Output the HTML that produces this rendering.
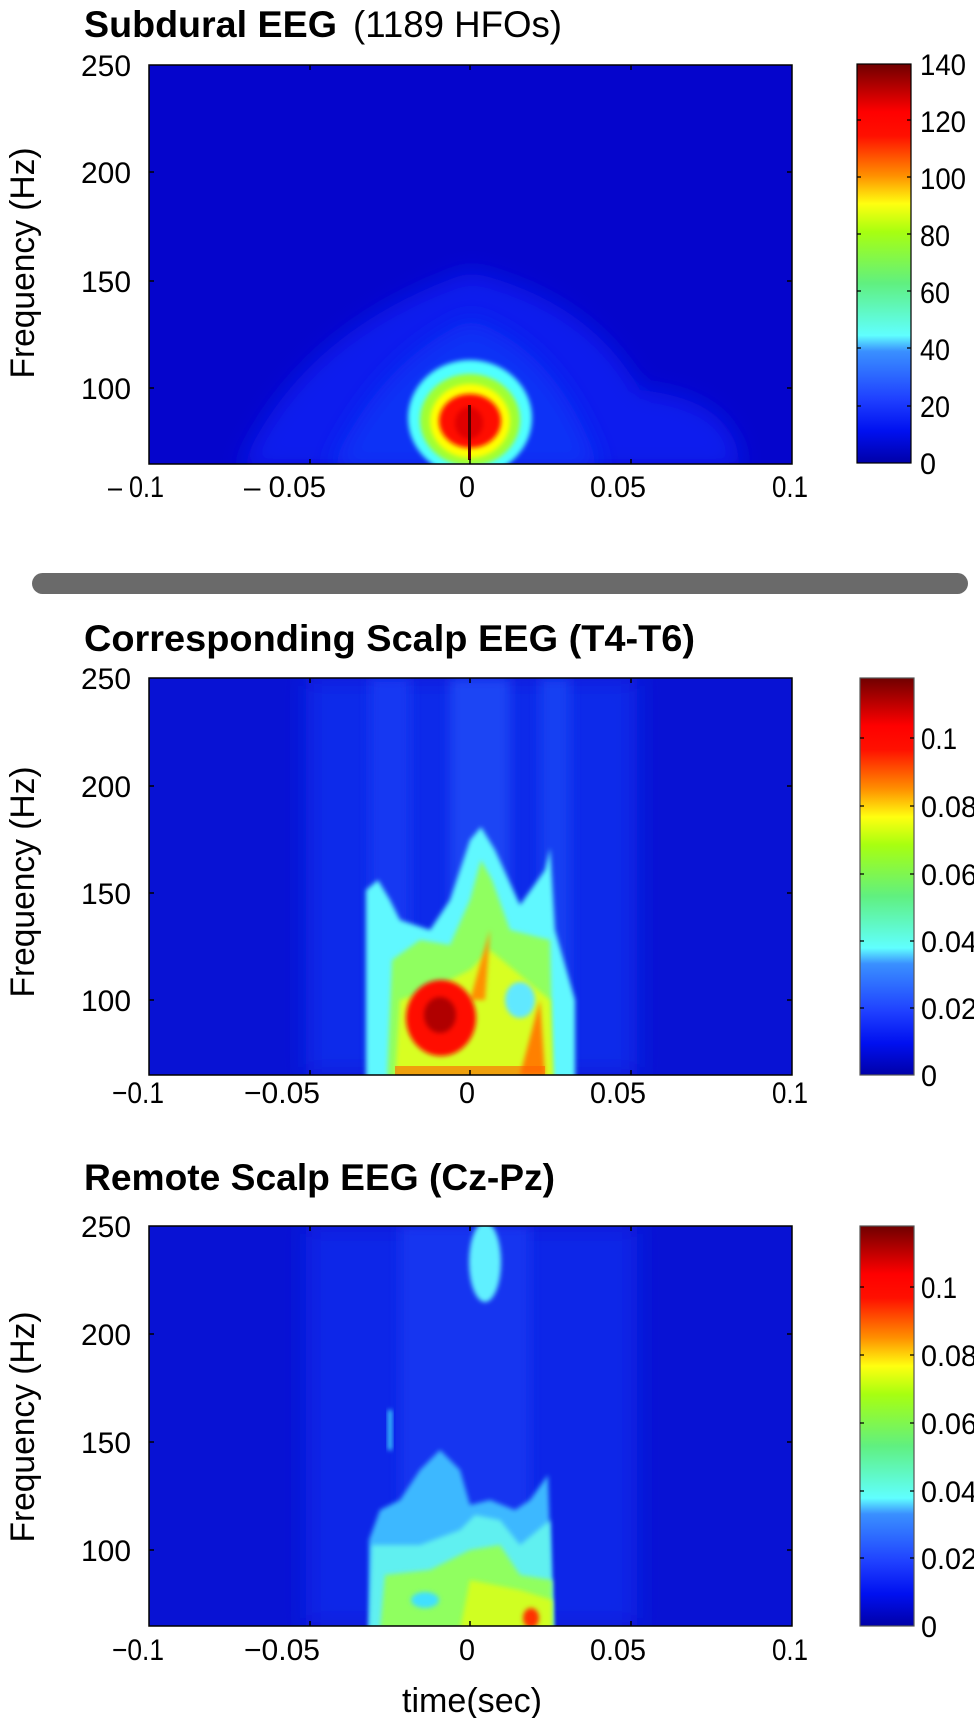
<!DOCTYPE html>
<html><head><meta charset="utf-8"><style>
html,body{margin:0;padding:0;background:#fff;}
svg{display:block;}
text{font-family:"Liberation Sans",sans-serif;fill:#000;}
</style></head><body>
<svg width="974" height="1718" viewBox="0 0 974 1718" xmlns="http://www.w3.org/2000/svg">
<defs>
<linearGradient id="jet" x1="0" y1="1" x2="0" y2="0">
<stop offset="0" stop-color="#0000a8"/><stop offset="0.08" stop-color="#0010f0"/>
<stop offset="0.16" stop-color="#1f40ff"/><stop offset="0.28" stop-color="#3a90ff"/>
<stop offset="0.32" stop-color="#60ffff"/><stop offset="0.45" stop-color="#60f080"/>
<stop offset="0.58" stop-color="#a8ff10"/><stop offset="0.65" stop-color="#ffff10"/>
<stop offset="0.72" stop-color="#ff9000"/><stop offset="0.82" stop-color="#ff1000"/>
<stop offset="0.88" stop-color="#ff0000"/><stop offset="1" stop-color="#700000"/>
</linearGradient>
<filter id="b2" x="-50%" y="-50%" width="200%" height="200%"><feGaussianBlur stdDeviation="2.5"/></filter>
<filter id="b6" x="-50%" y="-50%" width="200%" height="200%"><feGaussianBlur stdDeviation="6"/></filter>
<filter id="b12" x="-50%" y="-50%" width="200%" height="200%"><feGaussianBlur stdDeviation="12"/></filter>
<clipPath id="c1"><rect x="149" y="65" width="643" height="399"/></clipPath>
<clipPath id="c2"><rect x="149" y="678" width="643" height="397"/></clipPath>
<clipPath id="c3"><rect x="149" y="1226" width="643" height="400"/></clipPath>
</defs>

<!-- Titles -->
<text x="84" y="37" font-size="37" font-weight="bold" textLength="253" lengthAdjust="spacingAndGlyphs">Subdural EEG</text>
<text x="353" y="37" font-size="37" textLength="209" lengthAdjust="spacingAndGlyphs">(1189 HFOs)</text>
<text x="84" y="651" font-size="37" font-weight="bold" textLength="611" lengthAdjust="spacingAndGlyphs">Corresponding Scalp EEG (T4-T6)</text>
<text x="84" y="1190" font-size="37" font-weight="bold" textLength="471" lengthAdjust="spacingAndGlyphs">Remote Scalp EEG (Cz-Pz)</text>

<!-- Plot 1 -->
<g clip-path="url(#c1)">
<rect x="149" y="65" width="643" height="399" fill="#0505cc"/>
<path d="M240 470 Q300 330 470 272 Q590 300 640 390 Q740 400 740 470 Z" fill="#0a1cee" filter="url(#b12)"/>
<path d="M330 470 Q380 360 470 320 Q560 350 600 470 Z" fill="#0f30f6" filter="url(#b12)"/>
<ellipse cx="470" cy="418" rx="62" ry="58" fill="#50ffff" filter="url(#b2)"/>
<ellipse cx="470" cy="420" rx="50" ry="46" fill="#a0ff30" filter="url(#b2)"/>
<ellipse cx="470" cy="421" rx="40" ry="37" fill="#ffff00" filter="url(#b2)"/>
<ellipse cx="470" cy="421" rx="31" ry="27" fill="#ff1000" filter="url(#b2)"/>
<ellipse cx="469" cy="423" rx="14" ry="16" fill="#e00000" filter="url(#b2)"/>
<rect x="468" y="405" width="3" height="55" fill="#500000"/>
</g>
<rect x="149" y="65" width="643" height="399" fill="none" stroke="#000" stroke-width="1.5"/>

<!-- Plot 2 -->
<g clip-path="url(#c2)">
<rect x="149" y="678" width="643" height="397" fill="#0812d4"/>
<rect x="306" y="678" width="331" height="397" fill="#0e2aea" filter="url(#b12)"/>
<rect x="370" y="678" width="40" height="397" fill="#1638f2" filter="url(#b6)"/>
<rect x="450" y="678" width="60" height="397" fill="#1a44f4" filter="url(#b6)"/>
<rect x="540" y="678" width="30" height="397" fill="#1840f2" filter="url(#b6)"/>
<path d="M366 1080 L366 890 L378 880 L390 900 L400 920 L430 930 L450 900 L470 840 L481 827 L495 850 L520 905 L545 870 L550 848 L555 930 L575 1000 L575 1080 Z" fill="#60f8ff" filter="url(#b2)"/>
<path d="M387 1080 L392 960 L420 940 L450 945 L470 900 L481 860 L492 880 L510 930 L550 940 L553 1080 Z" fill="#90ff60" filter="url(#b2)"/>
<path d="M395 1080 L400 1000 L430 990 L470 970 L490 950 L550 1000 L553 1080 Z" fill="#d8ff20" filter="url(#b2)"/>
<ellipse cx="520" cy="1000" rx="15" ry="18" fill="#60e8ff" filter="url(#b2)"/>
<path d="M470 1000 L490 930 L485 1000 Z" fill="#ff9000" filter="url(#b2)"/>
<path d="M520 1075 L540 1000 L545 1075 Z" fill="#ff8000" filter="url(#b2)"/>
<ellipse cx="441" cy="1018" rx="35" ry="38" fill="#ff1000" filter="url(#b2)"/>
<ellipse cx="440" cy="1015" rx="16" ry="18" fill="#b00000" filter="url(#b2)"/>
<rect x="395" y="1066" width="150" height="9" fill="#ff6000" opacity="0.6"/>
</g>
<rect x="149" y="678" width="643" height="397" fill="none" stroke="#000" stroke-width="1.5"/>

<!-- Plot 3 -->
<g clip-path="url(#c3)">
<rect x="149" y="1226" width="643" height="400" fill="#0812d4"/>
<rect x="306" y="1226" width="331" height="400" fill="#0e28e8" filter="url(#b12)"/>
<rect x="400" y="1226" width="130" height="400" fill="#1436f0" filter="url(#b6)"/>
<ellipse cx="485" cy="1262" rx="16" ry="40" fill="#60f0ff" filter="url(#b2)"/>
<path d="M369 1630 L369 1540 L380 1510 L400 1500 L420 1470 L440 1450 L460 1470 L470 1505 L490 1500 L515 1510 L530 1500 L548 1475 L553 1630 Z" fill="#3cb8ff" filter="url(#b2)"/>
<path d="M369 1630 L372 1545 L420 1545 L460 1530 L475 1515 L500 1520 L520 1545 L550 1520 L553 1630 Z" fill="#60f0f0" filter="url(#b2)"/>
<path d="M380 1630 L385 1575 L430 1570 L470 1550 L500 1545 L520 1575 L552 1580 L552 1630 Z" fill="#90ff60" filter="url(#b2)"/>
<path d="M460 1630 L470 1580 L520 1590 L552 1600 L552 1630 Z" fill="#d0ff20" filter="url(#b2)"/>
<ellipse cx="425" cy="1600" rx="14" ry="8" fill="#40e0ff" filter="url(#b2)"/>
<ellipse cx="531" cy="1618" rx="8" ry="10" fill="#ff3000" filter="url(#b2)"/>
<rect x="388" y="1410" width="4" height="40" fill="#40e0ff" filter="url(#b2)"/>
</g>
<rect x="149" y="1226" width="643" height="400" fill="none" stroke="#000" stroke-width="1.5"/>

<!-- ticks -->
<g stroke="#000" stroke-width="1.5">
<path d="M310 464v-5M470 464v-5M631 464v-5M310 65v5M470 65v5M631 65v5M149 388h5M149 281h5M149 172h5M792 388h-5M792 281h-5M792 172h-5"/>
<path d="M310 1075v-5M470 1075v-5M631 1075v-5M310 678v5M470 678v5M631 678v5M149 1000h5M149 893h5M149 786h5M792 1000h-5M792 893h-5M792 786h-5"/>
<path d="M310 1626v-5M470 1626v-5M631 1626v-5M310 1226v5M470 1226v5M631 1226v5M149 1550h5M149 1442h5M149 1334h5M792 1550h-5M792 1442h-5M792 1334h-5"/>
</g>

<!-- y tick labels -->
<g font-size="30" text-anchor="end">
<text x="131" y="76" textLength="50" lengthAdjust="spacingAndGlyphs">250</text>
<text x="131" y="183" textLength="50" lengthAdjust="spacingAndGlyphs">200</text>
<text x="131" y="292" textLength="50" lengthAdjust="spacingAndGlyphs">150</text>
<text x="131" y="399" textLength="50" lengthAdjust="spacingAndGlyphs">100</text>
<text x="131" y="689" textLength="50" lengthAdjust="spacingAndGlyphs">250</text>
<text x="131" y="797" textLength="50" lengthAdjust="spacingAndGlyphs">200</text>
<text x="131" y="904" textLength="50" lengthAdjust="spacingAndGlyphs">150</text>
<text x="131" y="1011" textLength="50" lengthAdjust="spacingAndGlyphs">100</text>
<text x="131" y="1237" textLength="50" lengthAdjust="spacingAndGlyphs">250</text>
<text x="131" y="1345" textLength="50" lengthAdjust="spacingAndGlyphs">200</text>
<text x="131" y="1453" textLength="50" lengthAdjust="spacingAndGlyphs">150</text>
<text x="131" y="1561" textLength="50" lengthAdjust="spacingAndGlyphs">100</text>
</g>

<!-- x tick labels -->
<g font-size="30" text-anchor="middle">
<text x="136" y="497" textLength="56" lengthAdjust="spacingAndGlyphs">– 0.1</text>
<text x="285" y="497" textLength="82" lengthAdjust="spacingAndGlyphs">– 0.05</text>
<text x="467" y="497" textLength="16" lengthAdjust="spacingAndGlyphs">0</text>
<text x="618" y="497" textLength="56" lengthAdjust="spacingAndGlyphs">0.05</text>
<text x="790" y="497" textLength="36" lengthAdjust="spacingAndGlyphs">0.1</text>
<text x="138" y="1103" textLength="52" lengthAdjust="spacingAndGlyphs">−0.1</text>
<text x="282" y="1103" textLength="76" lengthAdjust="spacingAndGlyphs">−0.05</text>
<text x="467" y="1103" textLength="16" lengthAdjust="spacingAndGlyphs">0</text>
<text x="618" y="1103" textLength="56" lengthAdjust="spacingAndGlyphs">0.05</text>
<text x="790" y="1103" textLength="36" lengthAdjust="spacingAndGlyphs">0.1</text>
<text x="138" y="1660" textLength="52" lengthAdjust="spacingAndGlyphs">−0.1</text>
<text x="282" y="1660" textLength="76" lengthAdjust="spacingAndGlyphs">−0.05</text>
<text x="467" y="1660" textLength="16" lengthAdjust="spacingAndGlyphs">0</text>
<text x="618" y="1660" textLength="56" lengthAdjust="spacingAndGlyphs">0.05</text>
<text x="790" y="1660" textLength="36" lengthAdjust="spacingAndGlyphs">0.1</text>
</g>
<text x="472" y="1712" font-size="34" text-anchor="middle" textLength="140" lengthAdjust="spacingAndGlyphs">time(sec)</text>

<!-- y axis labels -->
<g font-size="34" text-anchor="middle">
<text transform="translate(34,263) rotate(-90)" textLength="231" lengthAdjust="spacingAndGlyphs">Frequency (Hz)</text>
<text transform="translate(34,882) rotate(-90)" textLength="231" lengthAdjust="spacingAndGlyphs">Frequency (Hz)</text>
<text transform="translate(34,1427) rotate(-90)" textLength="231" lengthAdjust="spacingAndGlyphs">Frequency (Hz)</text>
</g>

<!-- separator -->
<rect x="32" y="573" width="936" height="21" rx="10.5" fill="#6a6a6a"/>

<!-- colorbars -->
<rect x="857" y="64" width="54" height="399" fill="url(#jet)" stroke="#000" stroke-width="1.2"/>
<rect x="860" y="678" width="54" height="397" fill="url(#jet)" stroke="#555" stroke-width="1.2"/>
<rect x="860" y="1226" width="54" height="400" fill="url(#jet)" stroke="#555" stroke-width="1.2"/>
<g stroke="#000" stroke-width="1.2">
<path d="M857 120h4M857 177h4M857 234h4M857 291h4M857 348h4M857 406h4M911 120h-4M911 177h-4M911 234h-4M911 291h-4M911 348h-4M911 406h-4"/>
<path d="M860 738h4M860 806h4M860 874h4M860 941h4M860 1008h4M914 738h-4M914 806h-4M914 874h-4M914 941h-4M914 1008h-4"/>
<path d="M860 1287h4M860 1355h4M860 1423h4M860 1491h4M860 1558h4M914 1287h-4M914 1355h-4M914 1423h-4M914 1491h-4M914 1558h-4"/>
</g>
<g font-size="30">
<text x="920" y="75" textLength="46" lengthAdjust="spacingAndGlyphs">140</text>
<text x="920" y="132" textLength="46" lengthAdjust="spacingAndGlyphs">120</text>
<text x="920" y="189" textLength="46" lengthAdjust="spacingAndGlyphs">100</text>
<text x="920" y="246" textLength="30" lengthAdjust="spacingAndGlyphs">80</text>
<text x="920" y="303" textLength="30" lengthAdjust="spacingAndGlyphs">60</text>
<text x="920" y="360" textLength="30" lengthAdjust="spacingAndGlyphs">40</text>
<text x="920" y="417" textLength="30" lengthAdjust="spacingAndGlyphs">20</text>
<text x="920" y="474" textLength="16" lengthAdjust="spacingAndGlyphs">0</text>
<text x="921" y="749" textLength="36" lengthAdjust="spacingAndGlyphs">0.1</text>
<text x="921" y="817" textLength="56" lengthAdjust="spacingAndGlyphs">0.08</text>
<text x="921" y="885" textLength="56" lengthAdjust="spacingAndGlyphs">0.06</text>
<text x="921" y="952" textLength="56" lengthAdjust="spacingAndGlyphs">0.04</text>
<text x="921" y="1019" textLength="56" lengthAdjust="spacingAndGlyphs">0.02</text>
<text x="921" y="1086" textLength="16" lengthAdjust="spacingAndGlyphs">0</text>
<text x="921" y="1298" textLength="36" lengthAdjust="spacingAndGlyphs">0.1</text>
<text x="921" y="1366" textLength="56" lengthAdjust="spacingAndGlyphs">0.08</text>
<text x="921" y="1434" textLength="56" lengthAdjust="spacingAndGlyphs">0.06</text>
<text x="921" y="1502" textLength="56" lengthAdjust="spacingAndGlyphs">0.04</text>
<text x="921" y="1569" textLength="56" lengthAdjust="spacingAndGlyphs">0.02</text>
<text x="921" y="1637" textLength="16" lengthAdjust="spacingAndGlyphs">0</text>
</g>
</svg>
</body></html>
